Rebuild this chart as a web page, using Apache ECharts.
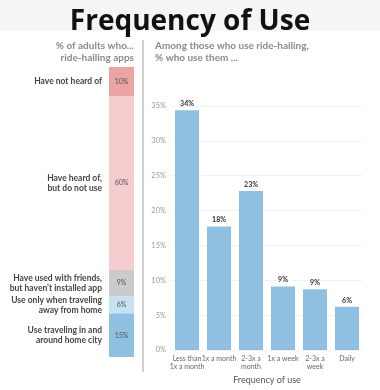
<!DOCTYPE html>
<html><head><meta charset="utf-8">
<script src="https://cdn.jsdelivr.net/npm/echarts@6/dist/echarts.min.js"></script>
<style>html,body{margin:0;padding:0;background:#fff}#c{width:380px;height:390px}</style>
</head><body><div id="c"></div>
<script>
// Left stacked bar: % of adults
const awareCats = ['Have not heard of', 'Have heard of,\nbut do not use', 'Have used with friends,\nbut haven\u2019t installed app', 'Use only when traveling\naway from home', 'Use traveling in and\naround home city'];
const awareValues = [10, 60, 9, 6, 15];
const awareColors = ['#eba3a3', '#f6cdce', '#cbcbcb', '#c7e2f1', '#8fc0e1'];
// Right bars: frequency of use
const freqCats = ['Less than\n1x a month', '1x a month', '2-3x a\nmonth', '1x a week', '2-3x a\nweek', 'Daily'];
const freqValues = [34.4, 17.7, 22.8, 9.1, 8.7, 6.2];
const yTicks = [0, 5, 10, 15, 20, 25, 30, 35];

const FONT = 'Lato';
const chart = echarts.init(document.getElementById('c'));
const leftGrid = {left: 109, width: 25, top: 67, height: 290};
const series = [];
awareValues.forEach((v, i) => {
  series.push({type: 'bar', stack: 'a', xAxisIndex: 0, yAxisIndex: 0, barWidth: '100%',
    data: [v], itemStyle: {color: awareColors[i]},
    label: {show: true, position: 'inside', formatter: v + '%', fontSize: 7, color: '#555', fontFamily: FONT}});
  series.push({type: 'bar', stack: 'b', xAxisIndex: 1, yAxisIndex: 1, barWidth: '100%',
    data: [v], itemStyle: {color: 'rgba(0,0,0,0)'}, silent: true,
    label: {show: true, position: 'left', distance: 7, formatter: awareCats[i], align: 'right',
      fontSize: 8.5, fontWeight: 'bold', color: '#444', lineHeight: 10, fontFamily: FONT}});
});
series.push({type: 'bar', xAxisIndex: 2, yAxisIndex: 2, data: freqValues, barCategoryGap: '25%',
  itemStyle: {color: '#8fc0e1'},
  label: {show: true, position: 'top', distance: 3, formatter: p => Math.round(p.value) + '%',
    fontSize: 7, fontWeight: 'bold', color: '#333', fontFamily: FONT}});

chart.setOption({
  animation: false,
  textStyle: {fontFamily: FONT},
  title: [
    {text: 'Frequency of Use', left: 'center', top: 3,
      textStyle: {fontSize: 28, fontWeight: 'bold', color: '#111', fontFamily: 'Open Sans'}}
  ],
  graphic: [
    {type: 'rect', shape: {x: 0, y: 0, width: 380, height: 31}, style: {fill: '#f6f5f3'}, z: -1},
    {type: 'line', shape: {x1: 143, y1: 40, x2: 143, y2: 372}, style: {stroke: '#d0d0d0', lineWidth: 2}},
    {type: 'text', x: 134, y: 40, style: {text: '% of adults who...\nride-hailing apps', align: 'right',
      fontSize: 10, fontWeight: 'bold', fill: '#8a8a8a', lineHeight: 12, fontFamily: FONT}},
    {type: 'text', x: 155, y: 40, style: {text: 'Among those who use ride-hailing,\n% who use them ...', align: 'left',
      fontSize: 10, fontWeight: 'bold', fill: '#8a8a8a', lineHeight: 12, fontFamily: FONT}}
  ],
  grid: [leftGrid, Object.assign({}, leftGrid), {left: 171, width: 192, top: 106, height: 248}],
  xAxis: [
    {type: 'category', gridIndex: 0, data: ['a'], show: false},
    {type: 'category', gridIndex: 1, data: ['a'], show: false},
    {type: 'category', gridIndex: 2, data: freqCats,
      axisLine: {show: false}, axisTick: {show: false},
      axisLabel: {interval: 0, fontSize: 7, color: '#666', lineHeight: 8, margin: 5},
      name: 'Frequency of use', nameLocation: 'middle', nameGap: 26,
      nameTextStyle: {fontSize: 9, color: '#555'}}
  ],
  yAxis: [
    {type: 'value', gridIndex: 0, min: 0, max: 100, inverse: true, show: false},
    {type: 'value', gridIndex: 1, min: 0, max: 100, inverse: true, show: false},
    {type: 'value', gridIndex: 2, min: 0, max: 35, interval: 5,
      axisLine: {show: false}, axisTick: {show: false},
      axisLabel: {fontSize: 7.5, color: '#999', margin: 5, formatter: v => v + '%'},
      splitLine: {lineStyle: {color: '#f2f2f2'}}}
  ],
  series: series
});
</script></body></html>
